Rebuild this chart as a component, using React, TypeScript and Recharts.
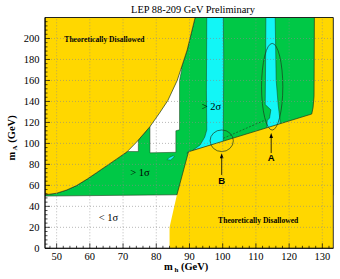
import React from 'react';
import { ScatterChart, Scatter, XAxis, YAxis, ReferenceLine, ReferenceArea } from 'recharts';

const TITLE = 'LEP 88-209 GeV Preliminary';
const X_DOMAIN: [number, number] = [46.5, 133.3];
const Y_DOMAIN: [number, number] = [0, 220];
const X_LABELS = [50, 60, 70, 80, 90, 100, 110, 120, 130];
const Y_LABELS = [0, 20, 40, 60, 80, 100, 120, 140, 160, 180, 200];
const X_GRID = [50, 60, 70, 80, 90, 100, 110, 120, 130];
const Y_GRID = [20, 40, 60, 80, 100, 120, 140, 160, 180, 200];
const X_TICKS = [48, 50, 52, 54, 56, 58, 60, 62, 64, 66, 68, 70, 72, 74, 76, 78, 80, 82, 84, 86, 88, 90, 92, 94, 96, 98, 100, 102, 104, 106, 108, 110, 112, 114, 116, 118, 120, 122, 124, 126, 128, 130, 132];
const Y_TICKS = [0, 4, 8, 12, 16, 20, 24, 28, 32, 36, 40, 44, 48, 52, 56, 60, 64, 68, 72, 76, 80, 84, 88, 92, 96, 100, 104, 108, 112, 116, 120, 124, 128, 132, 136, 140, 144, 148, 152, 156, 160, 164, 168, 172, 176, 180, 184, 188, 192, 196, 200, 204, 208, 212, 216];

const YELLOW = '#FFD700';
const GREEN = '#00C846';
const CYAN = '#12F6F6';
const EDGE = '#1c3a1c';

// upper-left theoretically disallowed boundary (m_h, m_A)
const disallowedLeft = [
  { x: 46.5, y: 51 }, { x: 50, y: 52.5 }, { x: 53, y: 55.5 }, { x: 56, y: 59.8 }, { x: 59.2, y: 66 },
  { x: 62, y: 72 }, { x: 65, y: 78.5 }, { x: 68, y: 85 }, { x: 71.2, y: 92 }, { x: 74, y: 101 },
  { x: 78.1, y: 116 }, { x: 81, y: 129 }, { x: 83.5, y: 141 }, { x: 86.3, y: 160 }, { x: 89.3, y: 189 },
  { x: 91.7, y: 220 }, { x: 46.5, y: 220 },
];

const disallowedRight = [
  { x: 84, y: 0 }, { x: 84, y: 20 }, { x: 86.2, y: 50.8 }, { x: 89.7, y: 92 }, { x: 126.8, y: 128 },
  { x: 127.2, y: 134 }, { x: 127.5, y: 145 }, { x: 127.6, y: 220 }, { x: 133.3, y: 220 }, { x: 133.3, y: 0 },
];

const greenRegion = [
  { x: 46.5, y: 49.8 }, { x: 46.5, y: 51 }, { x: 50, y: 52.5 }, { x: 53, y: 55.5 }, { x: 56, y: 59.8 },
  { x: 59.2, y: 66 }, { x: 62, y: 72 }, { x: 65, y: 78.5 }, { x: 68, y: 85 }, { x: 71.2, y: 92 },
  { x: 74, y: 101 }, { x: 78.1, y: 116 }, { x: 81, y: 129 }, { x: 83.5, y: 141 }, { x: 86.3, y: 160 },
  { x: 89.3, y: 189 }, { x: 91.7, y: 220 }, { x: 133.3, y: 220 }, { x: 133.3, y: 51 }, { x: 86.2, y: 51 },
];

const greenEdge = [
  { x: 86.2, y: 50.8 }, { x: 89.7, y: 92 }, { x: 126.8, y: 128 }, { x: 127.2, y: 134 },
  { x: 127.5, y: 145 }, { x: 127.6, y: 220 },
];

const whiteBig = [
  { x: 85, y: 175 }, { x: 87.7, y: 171 }, { x: 87.0, y: 160 }, { x: 87.0, y: 113 }, { x: 85.9, y: 112 },
  { x: 85.9, y: 91.5 }, { x: 78.1, y: 91 }, { x: 78.1, y: 118 }, { x: 76, y: 125 },
];

const whiteSmall = [
  { x: 70.5, y: 92.3 }, { x: 74.6, y: 92.2 }, { x: 74.6, y: 105 }, { x: 70.5, y: 100 },
];

const cyanBand1 = [
  { x: 95.2, y: 220 }, { x: 95.1, y: 150 }, { x: 95.2, y: 112.8 }, { x: 94.6, y: 106 }, { x: 93.2, y: 98.5 },
  { x: 90.8, y: 93.0 }, { x: 100.2, y: 101.5 }, { x: 100.2, y: 112.8 }, { x: 100.3, y: 180 }, { x: 100.2, y: 220 },
];

const cyanBand2 = [
  { x: 113.0, y: 220 }, { x: 112.9, y: 170 }, { x: 112.8, y: 137 }, { x: 114.5, y: 132 }, { x: 114.1, y: 124 },
  { x: 113.4, y: 122 }, { x: 113.2, y: 114 }, { x: 117.4, y: 118.5 }, { x: 116.7, y: 136.8 },
  { x: 116.1, y: 160.4 }, { x: 115.8, y: 220 },
];

const cyanBlob1 = [
  { x: 83.2, y: 84.5 }, { x: 84.0, y: 86.6 }, { x: 85.1, y: 88.3 }, { x: 85.4, y: 87.2 }, { x: 84.3, y: 84.2 },
];

const cyanBlob2 = [
  { x: 89.2, y: 90.8 }, { x: 90.2, y: 93.6 }, { x: 90.5, y: 92.4 },
];

const dashedLimit = [
  { x: 100.2, y: 104.9 }, { x: 112.8, y: 122.3 },
];

const ellipseA = [{ x: 111.7, y: 112.7 }, { x: 118.1, y: 195.3 }];
const ellipseB = [{ x: 96.2, y: 92.2 }, { x: 103.2, y: 112.8 }];
const arrowA = [{ x: 114.6, y: 90.8 }, { x: 114.6, y: 109.9 }];
const arrowB = [{ x: 99.7, y: 69.9 }, { x: 99.7, y: 90.6 }];

const disallowedLabels = [
  { x: 64.4, y: 198.6, label: 'Theoretically Disallowed' },
  { x: 110.7, y: 26.3, label: 'Theoretically Disallowed' },
];
const sigmaLabels = [
  { x: 96.6, y: 134.7, label: '> 2σ' },
  { x: 75.1, y: 72.7, label: '> 1σ' },
  { x: 65.6, y: 29.6, label: '< 1σ' },
];
const markerLabels = [
  { x: 114.6, y: 86.1, label: 'A' },
  { x: 99.7, y: 64.4, label: 'B' },
];

const SERIF = '"Liberation Serif", "Times New Roman", serif';
const SANS = '"Liberation Sans", Arial, sans-serif';

const noShape = () => <g />;

const polygon = (fill: string, stroke: string, sw = 0.6) => (props: any) => {
  const pts = props.points || [];
  if (!pts.length) return <g />;
  const d = pts.map((p: any, i: number) => `${i ? 'L' : 'M'}${p.x},${p.y}`).join(' ') + ' Z';
  return <path d={d} fill={fill} stroke={stroke} strokeWidth={sw} strokeLinejoin="round" />;
};

const polyline = (stroke: string, sw = 0.6, dash?: string) => (props: any) => {
  const pts = props.points || [];
  if (!pts.length) return <g />;
  const d = pts.map((p: any, i: number) => `${i ? 'L' : 'M'}${p.x},${p.y}`).join(' ');
  return <path d={d} fill="none" stroke={stroke} strokeWidth={sw} strokeDasharray={dash} />;
};

const ellipseLine = (props: any) => {
  const pts = props.points || [];
  if (pts.length < 2) return <g />;
  const [a, b] = pts;
  return (
    <ellipse cx={(a.x + b.x) / 2} cy={(a.y + b.y) / 2} rx={Math.abs(b.x - a.x) / 2} ry={Math.abs(b.y - a.y) / 2}
      fill="none" stroke={EDGE} strokeWidth={0.7} />
  );
};

const arrowLine = (props: any) => {
  const pts = props.points || [];
  if (pts.length < 2) return <g />;
  const [a, b] = pts;
  return (
    <g>
      <line x1={a.x} y1={a.y} x2={b.x} y2={b.y + 3} stroke="#000" strokeWidth={0.8} />
      <path d={`M${b.x},${b.y} L${b.x - 1.8},${b.y + 5} L${b.x + 1.8},${b.y + 5} Z`} fill="#000" />
    </g>
  );
};

const textShape = (style: any) => (props: any) => (
  <text x={props.cx} y={props.cy} textAnchor="middle" dominantBaseline="central" {...style}>
    {props.payload.label}
  </text>
);

const XTick = (props: any) => {
  const { x, y, payload } = props;
  const v = payload.value;
  const major = X_LABELS.includes(v);
  return (
    <g>
      <line x1={x} y1={y} x2={x} y2={y - (major ? 5 : 2.5)} stroke="#000" strokeWidth={0.7} />
      {major && (
        <text x={x} y={y + 12} textAnchor="middle" fontSize={10.5} fontFamily={SERIF} fill="#000">{v}</text>
      )}
    </g>
  );
};

const YTick = (props: any) => {
  const { x, y, payload } = props;
  const v = payload.value;
  const major = Y_LABELS.includes(v);
  return (
    <g>
      <line x1={x} y1={y} x2={x + (major ? 5 : 2.5)} y2={y} stroke="#000" strokeWidth={0.7} />
      {major && (
        <text x={x - 5.5} y={y + 3.6} textAnchor="end" fontSize={10.5} fontFamily={SERIF} fill="#000">{v}</text>
      )}
    </g>
  );
};

const XTitle = (p: any) => {
  const vb = p.viewBox || { x: 45, y: 248, width: 288 };
  return (
    <text x={vb.x + vb.width / 2 - 3} y={vb.y + 21.7} textAnchor="middle" fontFamily={SERIF} fill="#000">
      <tspan fontSize={10.5} fontWeight="bold">m</tspan>
      <tspan fontSize={7} fontWeight="bold" dy={2}> h</tspan>
      <tspan fontSize={10.5} fontWeight="bold" dy={-2}> (GeV)</tspan>
    </text>
  );
};

const YTitle = (p: any) => {
  const vb = p.viewBox || { x: 8, y: 17.5, height: 231 };
  const cx = 15.5;
  const cy = vb.y + vb.height / 2 + 5;
  return (
    <text x={cx} y={cy} transform={`rotate(-90 ${cx} ${cy})`} textAnchor="middle" fontFamily={SERIF} fill="#000">
      <tspan fontSize={10.5} fontWeight="bold">m</tspan>
      <tspan fontSize={7} fontWeight="bold" dy={2}> A</tspan>
      <tspan fontSize={10.5} fontWeight="bold" dy={-2}> (GeV)</tspan>
    </text>
  );
};

export default function App() {
  return (
    <div style={{ position: 'absolute', left: 0, top: 0, width: 340, height: 279, background: '#fff' }}>
      <div style={{
        position: 'absolute', left: 93, top: 5, width: 200, textAlign: 'center',
        fontFamily: SERIF, fontSize: 10.4, lineHeight: '1', color: '#000',
      }}>{TITLE}</div>
      <ScatterChart width={340} height={279} margin={{ top: 17.5, right: 6.7, bottom: 7.7, left: 8 }}>
        <XAxis type="number" dataKey="x" domain={X_DOMAIN} allowDataOverflow ticks={X_TICKS} interval={0}
          tick={XTick} tickLine={false} tickSize={0} tickMargin={0} height={23} zIndex={900}
          axisLine={{ stroke: '#000', strokeWidth: 0.8 }} label={{ content: XTitle }} />
        <YAxis type="number" dataKey="y" domain={Y_DOMAIN} allowDataOverflow ticks={Y_TICKS} interval={0}
          tick={YTick} tickLine={false} tickSize={0} tickMargin={0} width={37} zIndex={900}
          axisLine={{ stroke: '#000', strokeWidth: 0.8 }} label={{ content: YTitle }} />

        <Scatter data={greenRegion} isAnimationActive={false} shape={noShape} line={polygon(GREEN, EDGE, 0.6)} />
        <Scatter data={whiteBig} isAnimationActive={false} shape={noShape} line={polygon('#fff', EDGE, 0.5)} />
        <Scatter data={whiteSmall} isAnimationActive={false} shape={noShape} line={polygon('#fff', EDGE, 0.5)} />
        <Scatter data={cyanBand1} isAnimationActive={false} shape={noShape} line={polygon(CYAN, EDGE, 0.5)} />
        <Scatter data={cyanBand2} isAnimationActive={false} shape={noShape} line={polygon(CYAN, EDGE, 0.5)} />
        <Scatter data={cyanBlob1} isAnimationActive={false} shape={noShape} line={polygon(CYAN, EDGE, 0.4)} />
        <Scatter data={cyanBlob2} isAnimationActive={false} shape={noShape} line={polygon(CYAN, EDGE, 0.4)} />
        <Scatter data={disallowedLeft} isAnimationActive={false} shape={noShape} line={polygon(YELLOW, EDGE, 0.7)} />
        <Scatter data={disallowedRight} isAnimationActive={false} shape={noShape} line={polygon(YELLOW, 'none', 0)} />
        <Scatter data={greenEdge} isAnimationActive={false} shape={noShape} line={polyline(EDGE, 0.7)} />
        <Scatter data={dashedLimit} isAnimationActive={false} shape={noShape} line={polyline(EDGE, 0.6, '2 1.5')} />
        <Scatter data={ellipseA} isAnimationActive={false} shape={noShape} line={ellipseLine} />
        <Scatter data={ellipseB} isAnimationActive={false} shape={noShape} line={ellipseLine} />
        <Scatter data={arrowA} isAnimationActive={false} shape={noShape} line={arrowLine} />
        <Scatter data={arrowB} isAnimationActive={false} shape={noShape} line={arrowLine} />
        <Scatter data={disallowedLabels} isAnimationActive={false}
          shape={textShape({ fontFamily: SERIF, fontSize: 7.6, fontWeight: 'bold', fill: '#000' })} />
        <Scatter data={sigmaLabels} isAnimationActive={false}
          shape={textShape({ fontFamily: SERIF, fontSize: 10.5, fill: '#000' })} />
        <Scatter data={markerLabels} isAnimationActive={false}
          shape={textShape({ fontFamily: SANS, fontSize: 9.5, fontWeight: 'bold', fill: '#000' })} />

        {X_GRID.map((v) => (
          <ReferenceLine key={'gx' + v} x={v} stroke="#8a8a8a" strokeWidth={0.6} strokeDasharray="1 2" zIndex={700} />
        ))}
        {Y_GRID.map((v) => (
          <ReferenceLine key={'gy' + v} y={v} stroke="#8a8a8a" strokeWidth={0.6} strokeDasharray="1 2" zIndex={700} />
        ))}
        <ReferenceArea x1={X_DOMAIN[0]} x2={X_DOMAIN[1]} y1={Y_DOMAIN[0]} y2={Y_DOMAIN[1]}
          fill="none" fillOpacity={0} stroke="#000" strokeWidth={0.8} zIndex={800} />
      </ScatterChart>
    </div>
  );
}
